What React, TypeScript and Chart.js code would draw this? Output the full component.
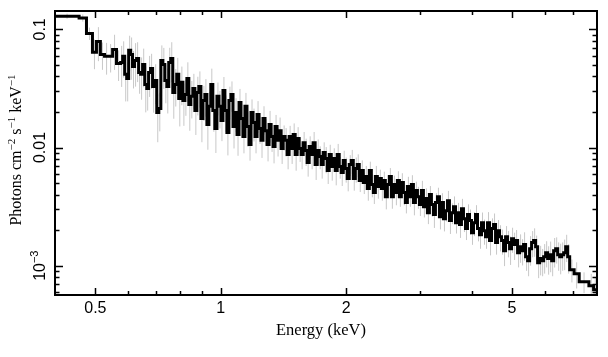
import { useEffect, useRef } from "react";
import { Chart, registerables } from "chart.js";

Chart.register(...registerables);

// Bin edges (keV)
const binEdges = [
  0.4, 0.457, 0.476,
  0.492, 0.503, 0.514, 0.526, 0.538, 0.55, 0.562,
  0.575, 0.5814, 0.588, 0.5946, 0.601, 0.6077, 0.614, 0.6209, 0.628, 0.635,
  0.642, 0.6492, 0.657, 0.6643, 0.671, 0.6785, 0.686, 0.6937, 0.702, 0.7098,
  0.718, 0.726, 0.734, 0.7422, 0.75, 0.7584, 0.767, 0.7756, 0.784, 0.7927,
  0.802, 0.811, 0.82, 0.8292, 0.838, 0.8474, 0.857, 0.8666, 0.876, 0.8858,
  0.896, 0.906, 0.916, 0.9262, 0.936, 0.9464, 0.957, 0.9677, 0.979, 0.9899,
  1.001, 1.0122, 1.023, 1.0344, 1.046, 1.0577, 1.07, 1.0819, 1.094, 1.1062,
  1.118, 1.1305, 1.143, 1.1558, 1.169, 1.182, 1.195, 1.2083, 1.222, 1.2356,
  1.249, 1.2629, 1.277, 1.2913, 1.306, 1.3206, 1.335, 1.3499, 1.365, 1.3802,
  1.396, 1.4116, 1.427, 1.4429, 1.459, 1.4753, 1.492, 1.5087, 1.525, 1.542,
  1.559, 1.5764, 1.594, 1.6118, 1.63, 1.6482, 1.666, 1.6846, 1.704, 1.723,
  1.742, 1.7614, 1.781, 1.8009, 1.821, 1.8413, 1.862, 1.8828, 1.903, 1.9242,
  1.946, 1.9677, 1.989, 2.0112, 2.034, 2.0567, 2.08, 2.1032, 2.126, 2.1497,
  2.174, 2.1983, 2.223, 2.2478, 2.273, 2.2984, 2.324, 2.3499, 2.376, 2.4025,
  2.429, 2.4561, 2.483, 2.5107, 2.539, 2.5673, 2.596, 2.625, 2.654, 2.6836,
  2.713, 2.7433, 2.774, 2.805, 2.836, 2.8677, 2.9, 2.9324, 2.965, 2.9981,
  3.031, 3.0648, 3.099, 3.1336, 3.168, 3.2034, 3.239, 3.2751, 3.312, 3.349,
  3.386, 3.4238, 3.462, 3.5006, 3.539, 3.5785, 3.619, 3.6594, 3.7, 3.7413,
  3.782, 3.8242, 3.867, 3.9102, 3.954, 3.9981, 4.042, 4.0871, 4.133, 4.1791,
  4.225, 4.2722, 4.32, 4.3682, 4.417, 4.4663, 4.516, 4.5664, 4.617, 4.6685,
  4.72, 4.7727, 4.826, 4.8799, 4.934, 4.9891, 5.045, 5.1013, 5.158, 5.2156,
  5.273, 5.3318, 5.391, 5.4512, 5.512, 5.5735, 5.636, 5.6989, 5.762, 5.8263,
  5.891, 5.9567, 6.023, 6.0902, 6.158, 6.2267, 6.296, 6.3663, 6.437, 6.5088,
  6.581, 6.6544, 6.728, 6.8031,
  6.879, 7.05, 7.25, 7.65, 7.85, 8.0,
];

// Photons cm^-2 s^-1 keV^-1 per bin
const fluxValues = [
  0.1293, 0.125, 0.0924,
  0.0639, 0.0791, 0.0614, 0.0591, 0.0591, 0.0677, 0.0515,
  0.0525, 0.0591, 0.0416, 0.0384, 0.0664, 0.0614, 0.0486, 0.0546, 0.0568, 0.0432,
  0.0416, 0.0505, 0.0342, 0.0316, 0.0432, 0.0467, 0.0329, 0.037, 0.0198, 0.0214,
  0.0546, 0.0505, 0.037, 0.0329, 0.0525, 0.0568, 0.0292, 0.0342, 0.0416, 0.026,
  0.0356, 0.025, 0.0281, 0.0384, 0.0231, 0.0271, 0.0316, 0.0206, 0.0292, 0.0329,
  0.0176, 0.025, 0.0281, 0.0157, 0.0223, 0.0342, 0.0206, 0.0145, 0.0271, 0.0223,
  0.0169, 0.0304, 0.0206, 0.0134, 0.025, 0.0281, 0.0151, 0.0198, 0.0129, 0.0241,
  0.0176, 0.0124, 0.0223, 0.0151, 0.0106, 0.0198, 0.0163, 0.0124, 0.019, 0.0145,
  0.0115, 0.0176, 0.0139, 0.0106, 0.0157, 0.0124, 0.0102, 0.0151, 0.0115, 0.0139,
  0.00981, 0.0124, 0.0115, 0.00872, 0.0124, 0.00981, 0.0129, 0.00872, 0.0119, 0.00981,
  0.00872, 0.011, 0.00943, 0.00746, 0.0102, 0.00872, 0.011, 0.00718, 0.00943, 0.00839,
  0.00718, 0.00907, 0.00807, 0.00638, 0.00872, 0.0069, 0.00807, 0.00638, 0.00872, 0.0069,
  0.00614, 0.00776, 0.00664, 0.00546, 0.00718, 0.00776, 0.00546, 0.00664, 0.00718, 0.00525,
  0.00638, 0.00505, 0.00568, 0.00449, 0.00638, 0.00486, 0.00416, 0.00568, 0.00467, 0.00546,
  0.00449, 0.00525, 0.00384, 0.00486, 0.00568, 0.00384, 0.00486, 0.00416, 0.00525, 0.00384,
  0.00505, 0.00416, 0.00342, 0.00467, 0.00384, 0.00486, 0.00342, 0.00432, 0.00384, 0.00329,
  0.00432, 0.00316, 0.0037, 0.00281, 0.004, 0.00329, 0.00271, 0.00342, 0.00384, 0.0026,
  0.00342, 0.0025, 0.00292, 0.00355, 0.00241, 0.00281, 0.00316, 0.00231, 0.00281, 0.00223,
  0.00304, 0.0025, 0.00206, 0.00271, 0.00241, 0.0019, 0.00231, 0.00271, 0.00206, 0.00183,
  0.00231, 0.00198, 0.00176, 0.00231, 0.00163, 0.00206, 0.00223, 0.00157, 0.00198, 0.00176,
  0.00163, 0.00134, 0.00176, 0.00157, 0.00139, 0.00169, 0.00151, 0.00163, 0.00129, 0.00145,
  0.00134, 0.00151, 0.00119, 0.0011, 0.00139, 0.00157, 0.00163, 0.00145, 0.00106, 0.00115,
  0.0011, 0.00119, 0.00129, 0.00115, 0.00124, 0.0011, 0.00134, 0.00139, 0.00124, 0.00119,
  0.00124, 0.00129, 0.00145, 0.00119,
  0.000925, 0.000855, 0.000732, 0.000677, 0.000626,
];

// fractional 1-sigma errors per bin
const fluxErrors = [
  0.05, 0.07, 0.12,
  0.28, 0.32, 0.26, 0.3, 0.27, 0.33, 0.29,
  0.38, 0.34, 0.41, 0.36, 0.33, 0.39, 0.35, 0.4, 0.37, 0.34,
  0.39, 0.36, 0.42, 0.35, 0.38, 0.33, 0.4, 0.37, 0.44, 0.36,
  0.34, 0.38, 0.36, 0.41, 0.33, 0.37, 0.4, 0.35, 0.38, 0.42,
  0.36, 0.39, 0.34, 0.37, 0.4, 0.35, 0.33, 0.38, 0.36, 0.34,
  0.37, 0.33, 0.35, 0.39, 0.32, 0.36, 0.34, 0.38, 0.31, 0.35,
  0.33, 0.3, 0.34, 0.36, 0.31, 0.29, 0.35, 0.32, 0.34, 0.3,
  0.31, 0.28, 0.3, 0.33, 0.27, 0.29, 0.31, 0.28, 0.3, 0.26,
  0.29, 0.27, 0.25, 0.28, 0.3, 0.26, 0.28, 0.25, 0.27, 0.29,
  0.26, 0.24, 0.27, 0.25, 0.23, 0.26, 0.24, 0.27, 0.25, 0.23,
  0.25, 0.23, 0.26, 0.24, 0.22, 0.25, 0.23, 0.26, 0.24, 0.22,
  0.24, 0.22, 0.25, 0.23, 0.21, 0.24, 0.22, 0.25, 0.23, 0.21,
  0.23, 0.21, 0.24, 0.22, 0.2, 0.23, 0.21, 0.24, 0.22, 0.2,
  0.22, 0.2, 0.23, 0.21, 0.19, 0.22, 0.2, 0.23, 0.21, 0.19,
  0.21, 0.19, 0.22, 0.2, 0.18, 0.21, 0.19, 0.22, 0.2, 0.18,
  0.2, 0.22, 0.19, 0.21, 0.18, 0.2, 0.22, 0.19, 0.21, 0.2,
  0.21, 0.19, 0.22, 0.2, 0.18, 0.21, 0.23, 0.2, 0.19, 0.22,
  0.2, 0.22, 0.19, 0.21, 0.23, 0.2, 0.22, 0.19, 0.21, 0.23,
  0.21, 0.23, 0.2, 0.22, 0.24, 0.21, 0.23, 0.2, 0.22, 0.24,
  0.22, 0.24, 0.21, 0.23, 0.25, 0.22, 0.24, 0.21, 0.23, 0.25,
  0.24, 0.26, 0.23, 0.25, 0.27, 0.24, 0.26, 0.23, 0.25, 0.27,
  0.25, 0.27, 0.24, 0.26, 0.28, 0.25, 0.27, 0.24, 0.26, 0.28,
  0.26, 0.28, 0.25, 0.27, 0.29, 0.26, 0.28, 0.25, 0.27, 0.29,
  0.27, 0.29, 0.26, 0.28,
  0.22, 0.25, 0.2, 0.26, 0.28,
];

const xMajorTicks = [0.5, 1, 2, 5];
const xTickLabels = ["0.5", "1", "2", "5"];
const xMinorTicks = [0.6, 0.7, 0.8, 0.9, 3, 4, 6, 7];
const yMajorTicks = [0.001, 0.01, 0.1];
// [base, superscript]
const yTickLabels: [string, string][] = [["10", "−3"], ["0.01", ""], ["0.1", ""]];
const yMinorTicks = [
  0.0006, 0.0007, 0.0008, 0.0009,
  0.002, 0.003, 0.004, 0.005, 0.006, 0.007, 0.008, 0.009,
  0.02, 0.03, 0.04, 0.05, 0.06, 0.07, 0.08, 0.09,
];
const xTitle = "Energy (keV)";
// y title split into [text, isSuperscript]
const yTitleParts: [string, boolean][] = [
  ["Photons cm", false], ["−2", true], [" s", false], ["−1", true], [" keV", false], ["−1", true],
];

const X_MIN = 0.4;
const X_MAX = 8.0;
const Y_MIN = 0.000565;
const Y_MAX = 0.143;

const SANS = '"Liberation Sans", Arial, sans-serif';
const SERIF = '"Liberation Serif", "Times New Roman", serif';

function drawRich(
  ctx: CanvasRenderingContext2D,
  parts: [string, boolean][],
  family: string,
  size: number,
  supSize: number,
  supRise: number,
) {
  let total = 0;
  const widths = parts.map(([t, sup]) => {
    ctx.font = `${sup ? supSize : size}px ${family}`;
    const w = ctx.measureText(t).width;
    total += w;
    return w;
  });
  let x = -total / 2;
  parts.forEach(([t, sup], i) => {
    ctx.font = `${sup ? supSize : size}px ${family}`;
    ctx.fillText(t, x, sup ? -supRise : 0);
    x += widths[i];
  });
}

const framePlugin = {
  id: "frameTicks",
  afterDraw(chart: any) {
    const { ctx, chartArea: a, scales } = chart;
    const xs = scales.x;
    const ys = scales.y;
    ctx.save();
    ctx.strokeStyle = "#000";
    ctx.lineWidth = 1.5;
    ctx.beginPath();
    const xt = (vals: number[], len: number) => {
      vals.forEach((v) => {
        const px = Math.round(xs.getPixelForValue(v)) + 0.5;
        ctx.moveTo(px, a.bottom);
        ctx.lineTo(px, a.bottom - len);
        ctx.moveTo(px, a.top);
        ctx.lineTo(px, a.top + len);
      });
    };
    const yt = (vals: number[], len: number) => {
      vals.forEach((v) => {
        const py = Math.round(ys.getPixelForValue(v)) + 0.5;
        ctx.moveTo(a.left, py);
        ctx.lineTo(a.left + len, py);
        ctx.moveTo(a.right, py);
        ctx.lineTo(a.right - len, py);
      });
    };
    xt(xMajorTicks, 7);
    xt(xMinorTicks, 4);
    yt(yMajorTicks, 8);
    yt(yMinorTicks, 4.5);
    ctx.stroke();
    ctx.lineWidth = 2;
    ctx.strokeRect(a.left, a.top, a.right - a.left, a.bottom - a.top);

    // tick labels
    ctx.fillStyle = "#000";
    ctx.textBaseline = "alphabetic";
    ctx.textAlign = "left";
    xMajorTicks.forEach((v, i) => {
      ctx.save();
      ctx.translate(xs.getPixelForValue(v), a.bottom + 18);
      drawRich(ctx, [[xTickLabels[i], false]], SANS, 16, 11, 6);
      ctx.restore();
    });
    yMajorTicks.forEach((v, i) => {
      const [base, sup] = yTickLabels[i];
      const parts: [string, boolean][] = sup ? [[base, false], [sup, true]] : [[base, false]];
      ctx.save();
      ctx.translate(a.left - 10.5, ys.getPixelForValue(v));
      ctx.rotate(-Math.PI / 2);
      drawRich(ctx, parts, SANS, 16, 11, 6.5);
      ctx.restore();
    });

    // axis titles
    ctx.save();
    ctx.translate((a.left + a.right) / 2 - 5, a.bottom + 40);
    drawRich(ctx, [[xTitle, false]], SERIF, 16.5, 11, 6);
    ctx.restore();

    ctx.save();
    ctx.translate(21, (a.top + a.bottom) / 2 - 3);
    ctx.rotate(-Math.PI / 2);
    drawRich(ctx, yTitleParts, SERIF, 16, 11, 6);
    ctx.restore();

    ctx.restore();
  },
};

export default function App() {
  const ref = useRef<HTMLCanvasElement | null>(null);

  useEffect(() => {
    if (!ref.current) return;
    const n = Math.min(fluxValues.length, binEdges.length - 1, fluxErrors.length);

    const stepData: { x: number; y: number }[] = [];
    for (let i = 0; i < n; i++) stepData.push({ x: binEdges[i], y: fluxValues[i] });
    stepData.push({ x: binEdges[n], y: fluxValues[n - 1] });

    const errData: { x: number; y: number | null }[] = [];
    for (let i = 0; i < n; i++) {
      const c = Math.sqrt(binEdges[i] * binEdges[i + 1]);
      const v = fluxValues[i];
      const e = fluxErrors[i];
      errData.push({ x: c, y: v * (1 - e) });
      errData.push({ x: c, y: v * (1 + e) });
      errData.push({ x: c, y: null });
    }

    const chart = new Chart(ref.current, {
      type: "line",
      data: {
        datasets: [
          {
            data: stepData as any,
            borderColor: "#000",
            borderWidth: 3,
            stepped: "before",
            pointRadius: 0,
            fill: false,
            order: 0,
          },
          {
            data: errData as any,
            borderColor: "#c8c8c8",
            borderWidth: 1,
            pointRadius: 0,
            spanGaps: false,
            fill: false,
            order: 1,
          },
        ],
      },
      options: {
        animation: false,
        responsive: false,
        devicePixelRatio: 1,
        layout: { padding: { top: 11, right: 11, left: 0, bottom: 0 } },
        plugins: { legend: { display: false }, tooltip: { enabled: false } },
        events: [],
        scales: {
          x: {
            type: "logarithmic",
            min: X_MIN,
            max: X_MAX,
            position: "bottom",
            grid: { display: false },
            border: { display: false },
            afterBuildTicks: (s: any) => {
              s.ticks = xMajorTicks.map((v) => ({ value: v }));
            },
            afterFit: (s: any) => {
              s.height = 62;
            },
            ticks: { display: false },
            title: { display: false },
          },
          y: {
            type: "logarithmic",
            min: Y_MIN,
            max: Y_MAX,
            position: "left",
            grid: { display: false },
            border: { display: false },
            afterBuildTicks: (s: any) => {
              s.ticks = yMajorTicks.map((v) => ({ value: v }));
            },
            afterFit: (s: any) => {
              s.width = 55;
            },
            ticks: { display: false },
            title: { display: false },
          },
        },
      },
      plugins: [framePlugin],
    });
    return () => chart.destroy();
  }, []);

  return (
    <div style={{ position: "absolute", left: 0, top: 0, width: 608, height: 357, background: "#fff" }}>
      <canvas ref={ref} width={608} height={357} style={{ display: "block" }} />
    </div>
  );
}
